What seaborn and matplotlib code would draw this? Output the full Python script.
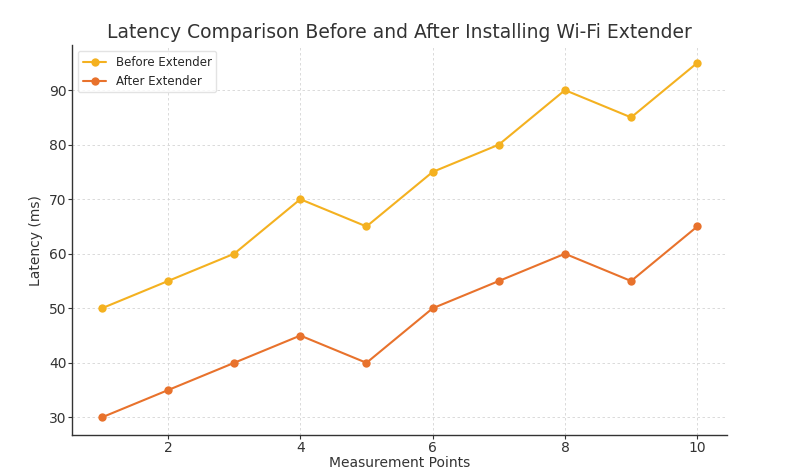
import matplotlib
matplotlib.use("Agg")
import matplotlib.pyplot as plt
import seaborn as sns
import pandas as pd

points = [1, 2, 3, 4, 5, 6, 7, 8, 9, 10]
before = [50, 55, 60, 70, 65, 75, 80, 90, 85, 95]
after = [30, 35, 40, 45, 40, 50, 55, 60, 55, 65]
series_names = ["Before Extender", "After Extender"]

df = pd.DataFrame({
    "point": points * 2,
    "latency": before + after,
    "series": [series_names[0]] * len(points) + [series_names[1]] * len(points),
})

sns.set_style("white")
fig, ax = plt.subplots(figsize=(7.92, 4.75), dpi=100)
fig.subplots_adjust(left=0.091, right=0.918, top=0.905, bottom=0.084)

sns.lineplot(data=df, x="point", y="latency", hue="series",
             palette=["#F4B120", "#E8722C"], marker="o", markersize=6,
             markeredgewidth=0, linewidth=1.5, ax=ax)

ax.set_title("Latency Comparison Before and After Installing Wi-Fi Extender",
             fontsize=13.5, color="#333333", pad=5)
ax.set_xlabel("Measurement Points", fontsize=10, color="#333333", labelpad=1)
ax.set_ylabel("Latency (ms)", fontsize=10, color="#333333", labelpad=4)
ax.set_xticks([2, 4, 6, 8, 10])
ax.set_yticks([30, 40, 50, 60, 70, 80, 90])
ax.tick_params(axis="both", labelsize=10, colors="#333333", length=3, pad=1,
               left=True, bottom=True)
ax.grid(True, linestyle=(0, (3, 3)), color="#d5d5d5", linewidth=0.6)
sns.despine(ax=ax)
for s in ["left", "bottom"]:
    ax.spines[s].set_color("#333333")
    ax.spines[s].set_linewidth(1.0)

leg = ax.legend(loc="upper left", fontsize=8.5, frameon=True)
leg.get_frame().set_edgecolor("#dddddd")

fig.savefig("out.png", dpi=100)
